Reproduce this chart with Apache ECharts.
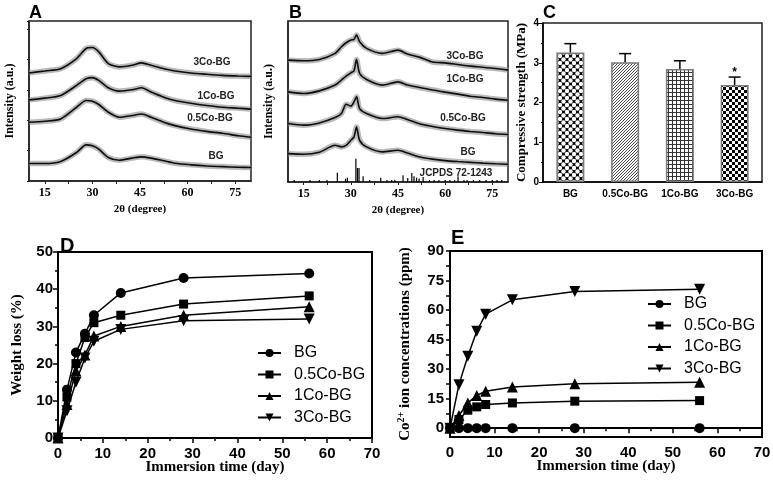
<!DOCTYPE html>
<html>
<head>
<meta charset="utf-8">
<script src="https://cdn.jsdelivr.net/npm/echarts@6/dist/echarts.min.js"></script>
<style>
  html, body { margin: 0; padding: 0; background: #fff; }
  #main { width: 773px; height: 488px; }
</style>
</head>
<body>
<div id="main"></div>
<script>
// A: XRD patterns of the glasses (intensity in arbitrary units, stacked)
const aTheta = [10, 15, 20, 25, 28, 30, 32, 35, 38.5, 42.5, 45.5, 48.5, 52.5, 56, 61, 66, 71, 76, 80]
const aBG = [10.9, 10.9, 12.2, 17.8, 22.6, 22.0, 19.9, 14.7, 13.0, 14.3, 15.1, 14.3, 12.6, 11.1, 10.1, 9.4, 9.0, 8.6, 8.4]
const a05Co = [36.7, 37.3, 38.8, 46.1, 50.3, 49.9, 47.8, 43.0, 39.8, 40.9, 41.9, 39.8, 36.7, 34.6, 32.5, 31.0, 29.8, 28.3, 27.3]
const a1Co = [50.7, 51.8, 53.5, 59.7, 63.9, 64.6, 62.9, 58.3, 56.2, 57.0, 58.3, 55.6, 52.4, 50.3, 48.6, 47.2, 46.1, 45.5, 44.9]
const a3Co = [67.5, 68.8, 70.2, 76.5, 82.8, 83.4, 80.7, 73.4, 71.3, 72.3, 73.8, 72.3, 70.2, 68.8, 67.5, 66.7, 66.0, 65.6, 65.4]

// B: XRD after immersion + reference sticks
const bTheta = [10, 15, 20, 25, 27, 28.5, 30, 31, 31.8, 32.8, 35, 40, 45, 48, 52, 56, 60, 64, 68, 72, 76, 80]
const bBG = [17.6, 17.2, 18.5, 22.8, 21.8, 22.8, 25.9, 28.0, 34.2, 25.9, 21.8, 18.7, 19.7, 18.0, 15.5, 14.2, 13.3, 12.7, 12.2, 11.7, 11.3, 11.0]
const b05Co = [36.3, 35.3, 36.7, 40.0, 42.5, 48.3, 47.1, 49.8, 52.9, 45.6, 42.5, 39.4, 40.5, 38.8, 36.0, 34.5, 33.2, 32.2, 31.4, 30.7, 30.0, 29.5]
const b1Co = [56.0, 55.0, 56.6, 60.2, 63.3, 65.8, 67.8, 69.1, 76.1, 67.4, 63.7, 60.2, 62.2, 60.2, 58.7, 57.1, 55.8, 54.6, 53.3, 52.5, 51.5, 50.8]
const b3Co = [75.7, 75.3, 76.1, 79.9, 84.0, 86.5, 88.2, 88.6, 91.3, 87.1, 83.0, 79.9, 81.9, 79.5, 77.4, 74.5, 74.0, 73.0, 72.0, 71.3, 70.5, 69.5]
const jcpdsTheta = [12, 17, 20, 22.4, 25.7, 28.3, 28.9, 31.6, 32.1, 32.6, 33.9, 36, 39.5, 41.5, 43, 44, 46.6, 48.1, 49.4, 50.1, 50.9, 51.7, 53, 55, 56.5, 58, 60, 61.5, 63, 64.1, 66, 67, 69, 71, 73, 75, 76.5, 78]
const jcpdsInt = [1.2, 1.2, 1.2, 1.2, 5.8, 2.1, 2.7, 14.5, 8.7, 8.7, 3.5, 1.2, 2.7, 1.2, 1.2, 1.4, 4.2, 2.5, 5.6, 3.5, 2.7, 2.1, 3.1, 1.2, 1.2, 1.2, 1.2, 1.2, 1.2, 3.5, 1.2, 1.2, 1.2, 1.2, 1.2, 1.2, 1.2, 1.2]
const xrdTicks = [15, 30, 45, 60, 75]
const xrdMinorTicks = [15, 22.5, 30, 37.5, 45, 52.5, 60, 67.5, 75]

// C: compressive strength (MPa)
const groups = ['BG', '0.5Co-BG', '1Co-BG', '3Co-BG']
const strength = [3.26, 3.01, 2.84, 2.44]
const strengthErr = [0.22, 0.22, 0.21, 0.2]
const strengthMark = ['', '', '', '*']

// D, E: immersion in SBF
const days = [0, 2, 4, 6, 8, 14, 28, 56]
const lossBG = [0, 13, 23, 28, 33, 39, 43, 44.2]
const loss05Co = [0, 11, 20, 27, 31, 33, 36, 38.2]
const loss1Co = [0, 9, 18, 22.3, 27.4, 30, 33, 35.3]
const loss3Co = [0, 7.3, 15, 21.5, 26, 29.2, 31.5, 32]
const coBG = [0, 0, 0, 0, 0, 0, 0, 0]
const co05Co = [0, 4.4, 9.1, 10.8, 12, 12.8, 13.7, 14]
const co1Co = [0, 6.4, 12.8, 16.6, 18.8, 20.9, 22.5, 23.3]
const co3Co = [0, 22.1, 36.5, 49.2, 57.9, 65.2, 69.4, 70.6]
const coTicks = [0, 15, 30, 45, 60, 75, 90]
const coMinorTicks = [0, 7.5, 15, 22.5, 30, 37.5, 45, 52.5, 60, 67.5, 75, 82.5, 90]

const SERIF = '"Liberation Serif", "DejaVu Serif", serif'
const SANS = '"Liberation Sans", Arial, sans-serif'

const pairs = (xs, ys) => xs.map((x, i) => [x, ys[i]])

// fuzzy XRD trace: grey halo under a dark core
function xrdSeries(idx, theta, vals) {
  const base = {
    type: 'line', xAxisIndex: idx, yAxisIndex: idx, data: pairs(theta, vals),
    symbol: 'none', smooth: 0.25, silent: true,
  }
  return [
    { ...base, lineStyle: { color: '#8c8c8c', width: 5.5, opacity: 0.6 }, z: 2 },
    { ...base, lineStyle: { color: '#0d0d0d', width: 1.6 }, z: 3 },
  ]
}

const markers = [
  { name: 'BG', symbol: 'circle', size: 10 },
  { name: '0.5Co-BG', symbol: 'rect', size: 9 },
  { name: '1Co-BG', symbol: 'triangle', size: 11 },
  { name: '3Co-BG', symbol: 'path://M0,0L10,0L5,9Z', size: 11 },
]
function kinetic(idx, m, vals) {
  return {
    type: 'line', name: m.name, xAxisIndex: idx, yAxisIndex: idx,
    data: pairs(days, vals), symbol: m.symbol, symbolSize: m.size,
    itemStyle: { color: '#000' }, lineStyle: { color: '#000', width: 1.5 },
  }
}

// bar fill patterns
function tile(size, draw) {
  const c = document.createElement('canvas')
  c.width = c.height = size
  const g = c.getContext('2d')
  g.fillStyle = '#fff'
  g.fillRect(0, 0, size, size)
  draw(g, size)
  return { image: c, repeat: 'repeat' }
}
const barFills = [
  tile(7, (g, s) => {
    g.fillStyle = '#000'
    g.fillRect(0, 0, s, s)
    g.fillStyle = '#fff'
    ;[[3.5, 3.5], [0, 0], [s, 0], [0, s], [s, s]].forEach(([x, y]) => {
      g.beginPath(); g.arc(x, y, 2.2, 0, Math.PI * 2); g.fill()
    })
  }),
  tile(3, (g, s) => {
    g.strokeStyle = '#333'; g.lineWidth = 0.9
    g.beginPath()
    g.moveTo(0, s); g.lineTo(s, 0)
    g.moveTo(-1, 1); g.lineTo(1, -1)
    g.moveTo(s - 1, s + 1); g.lineTo(s + 1, s - 1)
    g.stroke()
  }),
  tile(4, (g, s) => {
    g.fillStyle = '#333'
    g.fillRect(0, 0, s, 1); g.fillRect(0, 0, 1, s)
  }),
  tile(6, (g) => {
    g.fillStyle = '#000'
    g.fillRect(0, 0, 3, 3); g.fillRect(3, 3, 3, 3)
  }),
]

const boldSerif = (size) => ({ fontFamily: SERIF, fontWeight: 'bold', fontSize: size, color: '#000' })
const boldSans = (size) => ({ fontFamily: SANS, fontWeight: 'bold', fontSize: size, color: '#000' })
const noSplit = { show: false }

function xrdX(idx) {
  return {
    gridIndex: idx, type: 'value', min: 10, max: 80,
    axisLine: { show: true, lineStyle: { color: '#222', width: 1.5 } },
    axisTick: { show: true, customValues: xrdMinorTicks, length: 3, lineStyle: { color: '#222' } },
    axisLabel: { customValues: xrdTicks, margin: 6, ...boldSerif(12) },
    splitLine: noSplit,
    name: '2θ (degree)', nameLocation: 'middle', nameGap: 23, nameMoveOverlap: false,
    nameTextStyle: boldSerif(11),
  }
}
function xrdY(idx, ticks) {
  return {
    gridIndex: idx, type: 'value', min: 0, max: 100, interval: 19,
    axisLine: { show: true, lineStyle: { color: '#222', width: 1.5 } },
    axisTick: { show: ticks, length: 2, lineStyle: { color: '#222' } },
    axisLabel: { show: false }, splitLine: noSplit,
    name: 'Intensity (a.u.)', nameLocation: 'middle', nameRotate: 90, nameGap: 13, nameMoveOverlap: false,
    nameTextStyle: boldSerif(12),
  }
}
function timeX(idx) {
  return {
    gridIndex: idx, type: 'value', min: 0, max: 70, interval: 10,
    axisLine: { show: true, lineStyle: { color: '#000', width: 2 } },
    axisTick: { show: true, length: 5, lineStyle: { color: '#000', width: 1.5 } },
    minorTick: { show: true, splitNumber: 2, length: 3, lineStyle: { color: '#000', width: 1.5 } },
    axisLabel: { margin: 8, ...boldSans(15) },
    splitLine: noSplit, minorSplitLine: noSplit,
    name: 'Immersion time (day)', nameLocation: 'middle', nameGap: 22, nameMoveOverlap: false,
    nameTextStyle: boldSerif(15),
  }
}

const grid = [
  { left: 29, top: 21, width: 222, height: 160 },
  { left: 288, top: 21, width: 220, height: 161 },
  { left: 543, top: 23, width: 219, height: 159 },
  { left: 58, top: 252, width: 314, height: 186 },
  { left: 450, top: 251, width: 312, height: 186 },
].map((g, i) => ({
  ...g, show: true, containLabel: false, outerBoundsMode: 'none',
  borderColor: i < 3 ? '#222' : '#000', borderWidth: i < 3 ? 1.5 : 2, backgroundColor: 'transparent',
}))

const xAxis = [
  xrdX(0),
  xrdX(1),
  {
    gridIndex: 2, type: 'category', data: groups,
    axisLine: { show: true, lineStyle: { color: '#000', width: 1.5 } },
    axisTick: { show: false },
    axisLabel: { interval: 0, hideOverlap: false, margin: 7, ...boldSans(10) },
  },
  timeX(3),
  timeX(4),
]

const yAxis = [
  xrdY(0, true),
  xrdY(1, false),
  {
    gridIndex: 2, type: 'value', min: 0, max: 4, interval: 1,
    axisLine: { show: true, lineStyle: { color: '#000', width: 1.5 } },
    axisTick: { show: true, length: 4, lineStyle: { color: '#000' } },
    minorTick: { show: true, splitNumber: 2, length: 2, lineStyle: { color: '#000' } },
    axisLabel: { margin: 4, ...boldSans(10) },
    splitLine: noSplit, minorSplitLine: noSplit,
    name: 'Compressive strength (MPa)', nameLocation: 'middle', nameRotate: 90, nameGap: 15, nameMoveOverlap: false,
    nameTextStyle: boldSerif(13),
  },
  {
    gridIndex: 3, type: 'value', min: 0, max: 50, interval: 10,
    axisLine: { show: true, lineStyle: { color: '#000', width: 2 } },
    axisTick: { show: true, length: 5, lineStyle: { color: '#000', width: 1.5 } },
    minorTick: { show: true, splitNumber: 2, length: 3, lineStyle: { color: '#000', width: 1.5 } },
    axisLabel: { margin: 5, ...boldSans(15) },
    splitLine: noSplit, minorSplitLine: noSplit,
    name: 'Weight loss (%)', nameLocation: 'middle', nameRotate: 90, nameGap: 33, nameMoveOverlap: false,
    nameTextStyle: boldSerif(15),
  },
  {
    gridIndex: 4, type: 'value', min: -4.5, max: 90,
    axisLine: { show: true, lineStyle: { color: '#000', width: 2 } },
    axisTick: { show: true, customValues: coMinorTicks, length: 4, lineStyle: { color: '#000', width: 1.5 } },
    axisLabel: { customValues: coTicks, margin: 6, ...boldSans(15) },
    splitLine: noSplit,
    name: '{b|Co}{s|2+}{b| ion concentrations (ppm)}', nameLocation: 'middle', nameRotate: 90, nameGap: 37,
    nameMoveOverlap: false,
    nameTextStyle: {
      ...boldSerif(15),
      rich: {
        b: { ...boldSerif(15), verticalAlign: 'bottom', lineHeight: 18 },
        s: { ...boldSerif(10), verticalAlign: 'bottom', lineHeight: 18, padding: [0, 0, 7, 0] },
      },
    },
  },
]

const series = [
  ...xrdSeries(0, aTheta, aBG),
  ...xrdSeries(0, aTheta, a05Co),
  ...xrdSeries(0, aTheta, a1Co),
  ...xrdSeries(0, aTheta, a3Co),
  ...xrdSeries(1, bTheta, bBG),
  ...xrdSeries(1, bTheta, b05Co),
  ...xrdSeries(1, bTheta, b1Co),
  ...xrdSeries(1, bTheta, b3Co),
  {
    type: 'bar', xAxisIndex: 1, yAxisIndex: 1, data: pairs(jcpdsTheta, jcpdsInt),
    barWidth: 1.2, itemStyle: { color: '#000' }, silent: true,
  },
  {
    type: 'bar', name: 'strength', xAxisIndex: 2, yAxisIndex: 2, barWidth: 28,
    data: strength.map((v, i) => ({ value: v, itemStyle: { color: barFills[i] } })),
    itemStyle: { borderColor: '#7a7a7a', borderWidth: 1.5 },
  },
  {
    type: 'custom', xAxisIndex: 2, yAxisIndex: 2, z: 4,
    data: groups.map((g, i) => [i, strength[i], strength[i] + strengthErr[i]]),
    encode: { x: 0, y: [1, 2] },
    renderItem: (params, api) => {
      const i = api.value(0)
      const top = api.coord([i, api.value(1)])
      const hi = api.coord([i, api.value(2)])
      const stroke = { stroke: '#000', lineWidth: 1.5 }
      const kids = [
        { type: 'line', shape: { x1: top[0], y1: top[1], x2: hi[0], y2: hi[1] }, style: stroke },
        { type: 'line', shape: { x1: hi[0] - 6, y1: hi[1], x2: hi[0] + 6, y2: hi[1] }, style: stroke },
      ]
      const mark = strengthMark[params.dataIndex]
      if (mark) {
        kids.push({
          type: 'text', x: hi[0], y: hi[1] + 2,
          style: { text: mark, align: 'center', verticalAlign: 'bottom', font: 'bold 12px ' + SANS, fill: '#000' },
        })
      }
      return { type: 'group', children: kids }
    },
  },
  kinetic(3, markers[0], lossBG),
  kinetic(3, markers[1], loss05Co),
  kinetic(3, markers[2], loss1Co),
  kinetic(3, markers[3], loss3Co),
  kinetic(4, markers[0], coBG),
  kinetic(4, markers[1], co05Co),
  kinetic(4, markers[2], co1Co),
  kinetic(4, markers[3], co3Co),
]

const legendBase = {
  data: markers.map((m) => m.name), orient: 'vertical',
  itemWidth: 23, itemHeight: 10, itemGap: 5.5, selectedMode: false,
  textStyle: { fontFamily: SANS, fontSize: 16, color: '#000', lineHeight: 16, padding: [0, 0, 0, 8] },
}

const letter = (t, left, top, size) => ({
  type: 'text', left, top, style: { text: t, font: `bold ${size}px ${SANS}`, fill: '#000' },
})
const note = (t, x, y, size = 10) => ({
  type: 'text', x, y,
  style: { text: t, font: `bold ${size}px ${SANS}`, fill: '#222', align: 'center', verticalAlign: 'middle' },
})

const option = {
  animation: false,
  backgroundColor: '#fff',
  grid, xAxis, yAxis, series,
  legend: [
    { ...legendBase, left: 252, top: 340 },
    { ...legendBase, left: 642, top: 291 },
  ],
  graphic: [
    letter('A', 29, 4, 18),
    letter('B', 289, 4, 18),
    letter('C', 543, 4, 18),
    letter('D', 60, 236, 20),
    letter('E', 451, 228, 20),
    note('3Co-BG', 212, 62),
    note('1Co-BG', 216, 96),
    note('0.5Co-BG', 210, 118),
    note('BG', 216, 156),
    note('3Co-BG', 465, 56),
    note('1Co-BG', 465, 79),
    note('0.5Co-BG', 463, 118),
    note('BG', 468, 152),
    note('JCPDS 72-1243', 456, 173),
  ],
}

const chart = echarts.init(document.getElementById('main'), null, { renderer: 'canvas' })
chart.setOption(option)
</script>
</body>
</html>
